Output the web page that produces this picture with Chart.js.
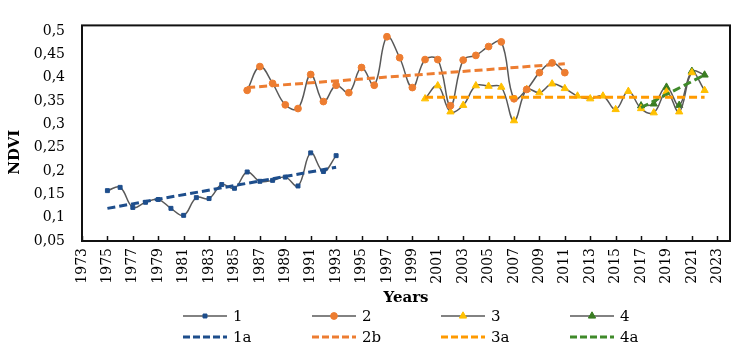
<!DOCTYPE html>
<html><head><meta charset="utf-8">
<script src="https://cdn.jsdelivr.net/npm/chart.js@4/dist/chart.umd.min.js"></script>
<style>html,body{margin:0;padding:0;background:#fff}</style>
</head><body>
<canvas id="c" width="746" height="351"></canvas>
<script>
// ---- data ----
const years1 = [1975,1976,1977,1978,1979,1980,1981,1982,1983,1984,1985,1986,1987,1988,1989,1990,1991,1992,1993];
const ndvi1  = [0.158,0.165,0.122,0.133,0.139,0.120,0.105,0.143,0.141,0.171,0.163,0.198,0.178,0.180,0.187,0.168,0.239,0.199,0.233];
const years2 = [1986,1987,1988,1989,1990,1991,1992,1993,1994,1995,1996,1997,1998,1999,2000,2001,2002,2003,2004,2005,2006,2007,2008,2009,2010,2011];
const ndvi2  = [0.373,0.424,0.388,0.342,0.334,0.407,0.349,0.384,0.368,0.422,0.384,0.488,0.443,0.379,0.439,0.439,0.340,0.438,0.448,0.467,0.477,0.355,0.375,0.411,0.432,0.411];
const years3 = [2000,2001,2002,2003,2004,2005,2006,2007,2008,2009,2010,2011,2012,2013,2014,2015,2016,2017,2018,2019,2020,2021,2022];
const ndvi3  = [0.355,0.383,0.327,0.341,0.383,0.382,0.380,0.308,0.375,0.368,0.387,0.377,0.361,0.355,0.361,0.332,0.371,0.334,0.325,0.370,0.327,0.411,0.373];
const years4 = [2017,2018,2019,2020,2021,2022];
const ndvi4  = [0.340,0.344,0.380,0.341,0.414,0.406];
const trendYears1 = [1975,1993], trend1 = [0.120,0.208];
const trendYears2 = [1986,2011], trend2 = [0.379,0.430];
const trendYears3 = [2000,2022], trend3 = [0.358,0.358];
const trendYears4 = [2017,2022], trend4 = [0.336,0.406];
const xTickYears = [1973,1975,1977,1979,1981,1983,1985,1987,1989,1991,1993,1995,1997,1999,2001,2003,2005,2007,2009,2011,2013,2015,2017,2019,2021,2023];
const yTickValues = [0.05,0.1,0.15,0.2,0.25,0.3,0.35,0.4,0.45,0.5];
const seriesLabels = ['1','2','3','4','1a','2b','3a','4a'];

// ---- style ----
const BLUE='#1E4E8C', ORANGE='#ED7D31', YELLOW='#FFC000', ORANGE2='#FF9A00', GREEN='#3A7D22', GREEN2='#3F8A2A', GRAY='#595959';
const FONT='"DejaVu Serif", serif';
const mk=(xs,ys)=>xs.map((x,i)=>({x:x,y:ys[i]}));

function series(label,xs,ys,color,style,radius){
  return {label:label,data:mk(xs,ys),borderColor:GRAY,backgroundColor:color,borderWidth:1.5,tension:0.4,
    pointStyle:style,pointRadius:radius,pointHoverRadius:radius,pointBackgroundColor:color,pointBorderColor:color,pointBorderWidth:1,order:2,fill:false};
}
function trend(label,xs,ys,color){
  return {label:label,data:mk(xs,ys),borderColor:color,backgroundColor:color,borderWidth:3,borderDash:[8,4],
    pointRadius:0,tension:0,order:1,fill:false,isTrend:true};
}

const datasets=[
  series(seriesLabels[0],years1,ndvi1,BLUE,'rect',2.8),
  series(seriesLabels[1],years2,ndvi2,ORANGE,'circle',3.4),
  series(seriesLabels[2],years3,ndvi3,YELLOW,'triangle',4.2),
  series(seriesLabels[3],years4,ndvi4,GREEN,'triangle',4.2),
  trend(seriesLabels[4],trendYears1,trend1,BLUE),
  trend(seriesLabels[5],trendYears2,trend2,ORANGE),
  trend(seriesLabels[6],trendYears3,trend3,ORANGE2),
  trend(seriesLabels[7],trendYears4,trend4,GREEN2)
];

const framePlugin={
  id:'frame',
  afterDraw(chart){
    const ctx=chart.ctx, a=chart.chartArea, xs=chart.scales.x;
    ctx.save();
    ctx.strokeStyle='#111'; ctx.lineWidth=1.5;
    xs.ticks.forEach(t=>{
      const px=Math.round(xs.getPixelForValue(t.value))+0.5;
      ctx.beginPath(); ctx.moveTo(px,a.bottom); ctx.lineTo(px,a.bottom-5); ctx.stroke();
    });
    ctx.lineWidth=2; ctx.strokeStyle='#111';
    ctx.strokeRect(a.left,a.top,a.right-a.left,a.bottom-a.top);
    ctx.fillStyle='#000'; ctx.font='bold 15px '+FONT;
    ctx.translate(15,(a.top+a.bottom)/2+19); ctx.rotate(-Math.PI/2);
    ctx.textAlign='center'; ctx.textBaseline='middle';
    ctx.fillText('NDVI',0,0);
    ctx.restore();
    ctx.save();
    ctx.font='15px '+FONT; ctx.textBaseline='middle'; ctx.textAlign='left'; ctx.fillStyle='#000';
    chart.data.datasets.forEach((ds,i)=>{
      const col=i%4,row=Math.floor(i/4);
      const x0=183+col*129, y=316+row*21, len=44;
      ctx.save();
      if(ds.isTrend){
        ctx.strokeStyle=ds.borderColor; ctx.lineWidth=3; ctx.setLineDash([7,3]);
      } else {
        ctx.strokeStyle=GRAY; ctx.lineWidth=1.5;
      }
      ctx.beginPath(); ctx.moveTo(x0,y); ctx.lineTo(x0+len,y); ctx.stroke();
      ctx.restore();
      if(!ds.isTrend){
        ctx.save();
        ctx.fillStyle=ds.pointBackgroundColor; ctx.strokeStyle=ds.pointBorderColor; ctx.lineWidth=1;
        Chart.helpers.drawPoint(ctx,{pointStyle:ds.pointStyle,radius:ds.pointRadius,rotation:0,borderWidth:1},x0+len/2,y);
        ctx.restore();
      }
      ctx.fillText(ds.label,x0+len+6,y+1);
    });
    ctx.restore();
  }
};

new Chart(document.getElementById('c'),{
  type:'line',
  data:{datasets:datasets},
  options:{
    responsive:false,animation:false,devicePixelRatio:1,
    layout:{padding:{top:15,right:16,bottom:44,left:0}},
    plugins:{legend:{display:false},tooltip:{enabled:false}},
    scales:{
      x:{type:'linear',min:1973,max:2024,
        afterBuildTicks:s=>{s.ticks=xTickYears.map(v=>({value:v}));},
        afterFit:s=>{s.height=66;},
        grid:{display:false,drawTicks:false},border:{display:false},
        ticks:{autoSkip:false,minRotation:90,maxRotation:90,padding:7,color:'#000',font:{family:FONT,size:14},callback:v=>String(v)},
        title:{display:true,text:'Years',color:'#000',font:{family:FONT,size:15,weight:'bold'},padding:{top:0,bottom:0}}
      },
      y:{type:'linear',min:0.05,max:0.5123,
        afterBuildTicks:s=>{s.ticks=yTickValues.map(v=>({value:v}));},
        afterFit:s=>{s.width=82;},
        grid:{display:false,drawTicks:false},border:{display:false},
        ticks:{padding:17,color:'#000',font:{family:FONT,size:14},callback:v=>String(+v.toFixed(2)).replace('.',',')}
      }
    }
  },
  plugins:[framePlugin]
});
</script>
</body></html>
